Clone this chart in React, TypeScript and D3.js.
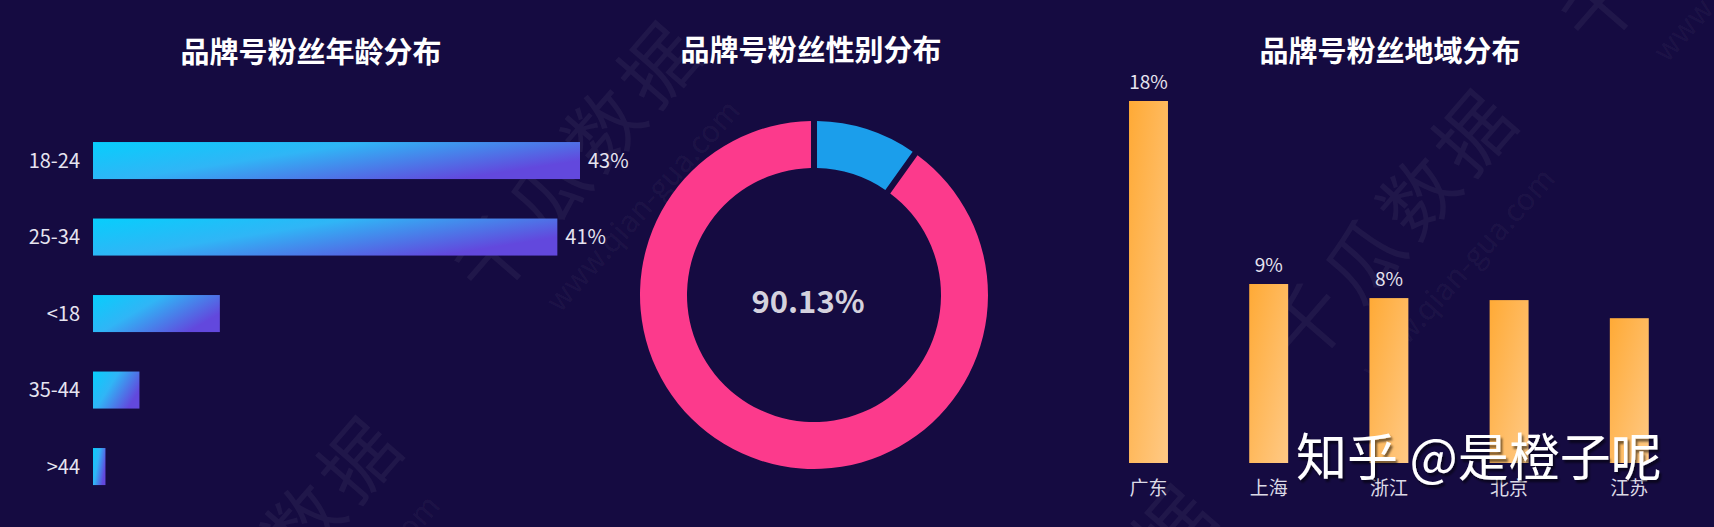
import * as d3 from 'd3'

// age distribution
const ageGroups = ['18-24', '25-34', '<18', '35-44', '>44']
const ageValues = [43, 41, 11.2, 4.1, 1.1]
const ageLabels = ['43%', '41%', '', '', '']

// gender distribution (blue first, then pink)
const genderNames = ['男', '女']
const genderValues = [9.87, 90.13]
const genderColors = ['#1b9eeb', '#fc3a8c']
const genderCenterText = '90.13%'

// region distribution
const regions = ['广东', '上海', '浙江', '北京', '江苏']
const regionValues = [18, 8.9, 8.2, 8.1, 7.2]
const regionLabels = ['18%', '9%', '8%', '', '']

const titles = ['品牌号粉丝年龄分布', '品牌号粉丝性别分布', '品牌号粉丝地域分布']

// faint background watermark centres
const watermarks: [number, number][] = [
  [575, 154],
  [1390, 222],
  [275, 549],
  [1090, 617],
  [1682, -96],
]

const W = 1714
const H = 527
const BG = '#150b41'
const FONT = '"Noto Sans CJK SC", "Noto Sans", sans-serif'

export default function App() {
  // age bars
  const ax = d3.scaleLinear([0, 43], [93, 580])
  const ay = d3
    .scaleBand(ageGroups, [122.3, 504.8])
    .paddingInner(0.516)
    .paddingOuter(0.258)

  // donut
  const cx = 814
  const cy = 295
  const pie = d3
    .pie<number>()
    .sort(null)
    .value((d) => d)
  const arcs = pie(genderValues)
  const arc = d3
    .arc<d3.PieArcDatum<number>>()
    .innerRadius(127)
    .outerRadius(174)
    .padAngle(0.028)

  // region bars
  const rx = d3
    .scaleBand(regions, [1088.4, 1689.4])
    .paddingInner(0.676)
    .paddingOuter(0.338)
  const ry = d3.scaleLinear([0, 18], [463, 101])

  return (
    <svg
      width={W}
      height={H}
      style={{ position: 'absolute', left: 0, top: 0 }}
      fontFamily={FONT}
    >
      <defs>
        <linearGradient id="ageGrad" x1="0" y1="0" x2="1" y2="0.5">
          <stop offset="0" stopColor="#07cefc" />
          <stop offset="0.45" stopColor="#30b5f6" />
          <stop offset="1" stopColor="#6248dd" />
        </linearGradient>
        <linearGradient id="regionGrad" x1="0" y1="0" x2="1" y2="1">
          <stop offset="0" stopColor="#ffaa36" />
          <stop offset="1" stopColor="#ffc985" />
        </linearGradient>
        <filter id="shadow" x="-10%" y="-30%" width="120%" height="160%">
          <feDropShadow dx="2" dy="3" stdDeviation="1" floodColor="#000" floodOpacity="0.55" />
        </filter>
      </defs>

      <rect width={W} height={H} fill={BG} />

      {/* watermarks */}
      <g fill="#ffffff" fillOpacity={0.05}>
        {watermarks.map(([x, y], i) => (
          <g key={i}>
            <text
              transform={`translate(${x},${y}) rotate(-49)`}
              textAnchor="middle"
              dominantBaseline="central"
              fontSize={76}
              letterSpacing={8}
            >
              千瓜数据
            </text>
            <text
              transform={`translate(${x + 66},${y + 50}) rotate(-48)`}
              textAnchor="middle"
              dominantBaseline="central"
              fontSize={30}
            >
              www.qian-gua.com
            </text>
          </g>
        ))}
      </g>

      {/* titles */}
      <g fill="#ffffff" fontWeight={700} fontSize={29} textAnchor="middle">
        <text x={311} y={63}>{titles[0]}</text>
        <text x={811} y={61}>{titles[1]}</text>
        <text x={1390} y={62}>{titles[2]}</text>
      </g>

      {/* age chart */}
      <g>
        {ageGroups.map((g, i) => {
          const y0 = ay(g) ?? 0
          const mid = y0 + ay.bandwidth() / 2
          return (
            <g key={g}>
              <rect
                x={ax(0)}
                y={y0}
                width={ax(ageValues[i]) - ax(0)}
                height={ay.bandwidth()}
                fill="url(#ageGrad)"
              />
              <text
                x={80}
                y={mid + 7.3}
                textAnchor="end"
                fontSize={20}
                fill="#e6e4f0"
              >
                {g}
              </text>
              {ageLabels[i] && (
                <text x={ax(ageValues[i]) + 8} y={mid + 7.3} fontSize={20} fill="#e6e4f0">
                  {ageLabels[i]}
                </text>
              )}
            </g>
          )
        })}
      </g>

      {/* gender donut */}
      <g transform={`translate(${cx},${cy})`}>
        {arcs.map((a, i) => (
          <path key={genderNames[i]} d={arc(a) ?? ''} fill={genderColors[i]} />
        ))}
        <text
          x={-6}
          y={18}
          textAnchor="middle"
          fontSize={31}
          fontWeight={700}
          fill="#d4d2de"
        >
          {genderCenterText}
        </text>
      </g>

      {/* region chart */}
      <g>
        {regions.map((r, i) => {
          const x0 = rx(r) ?? 0
          const mid = x0 + rx.bandwidth() / 2
          return (
            <g key={r}>
              <rect
                x={x0}
                y={ry(regionValues[i])}
                width={rx.bandwidth()}
                height={ry(0) - ry(regionValues[i])}
                fill="url(#regionGrad)"
              />
              {regionLabels[i] && (
                <text
                  x={mid}
                  y={ry(regionValues[i]) - 12}
                  textAnchor="middle"
                  fontSize={19}
                  fill="#e6e4f0"
                >
                  {regionLabels[i]}
                </text>
              )}
              <text x={mid} y={495} textAnchor="middle" fontSize={19} fill="#dcdae6">
                {r}
              </text>
            </g>
          )
        })}
      </g>

      {/* zhihu watermark */}
      <text
        x={1296}
        y={476}
        fontSize={51}
        fill="#ffffff"
        filter="url(#shadow)"
      >
        知乎 @是橙子呢
      </text>
    </svg>
  )
}
